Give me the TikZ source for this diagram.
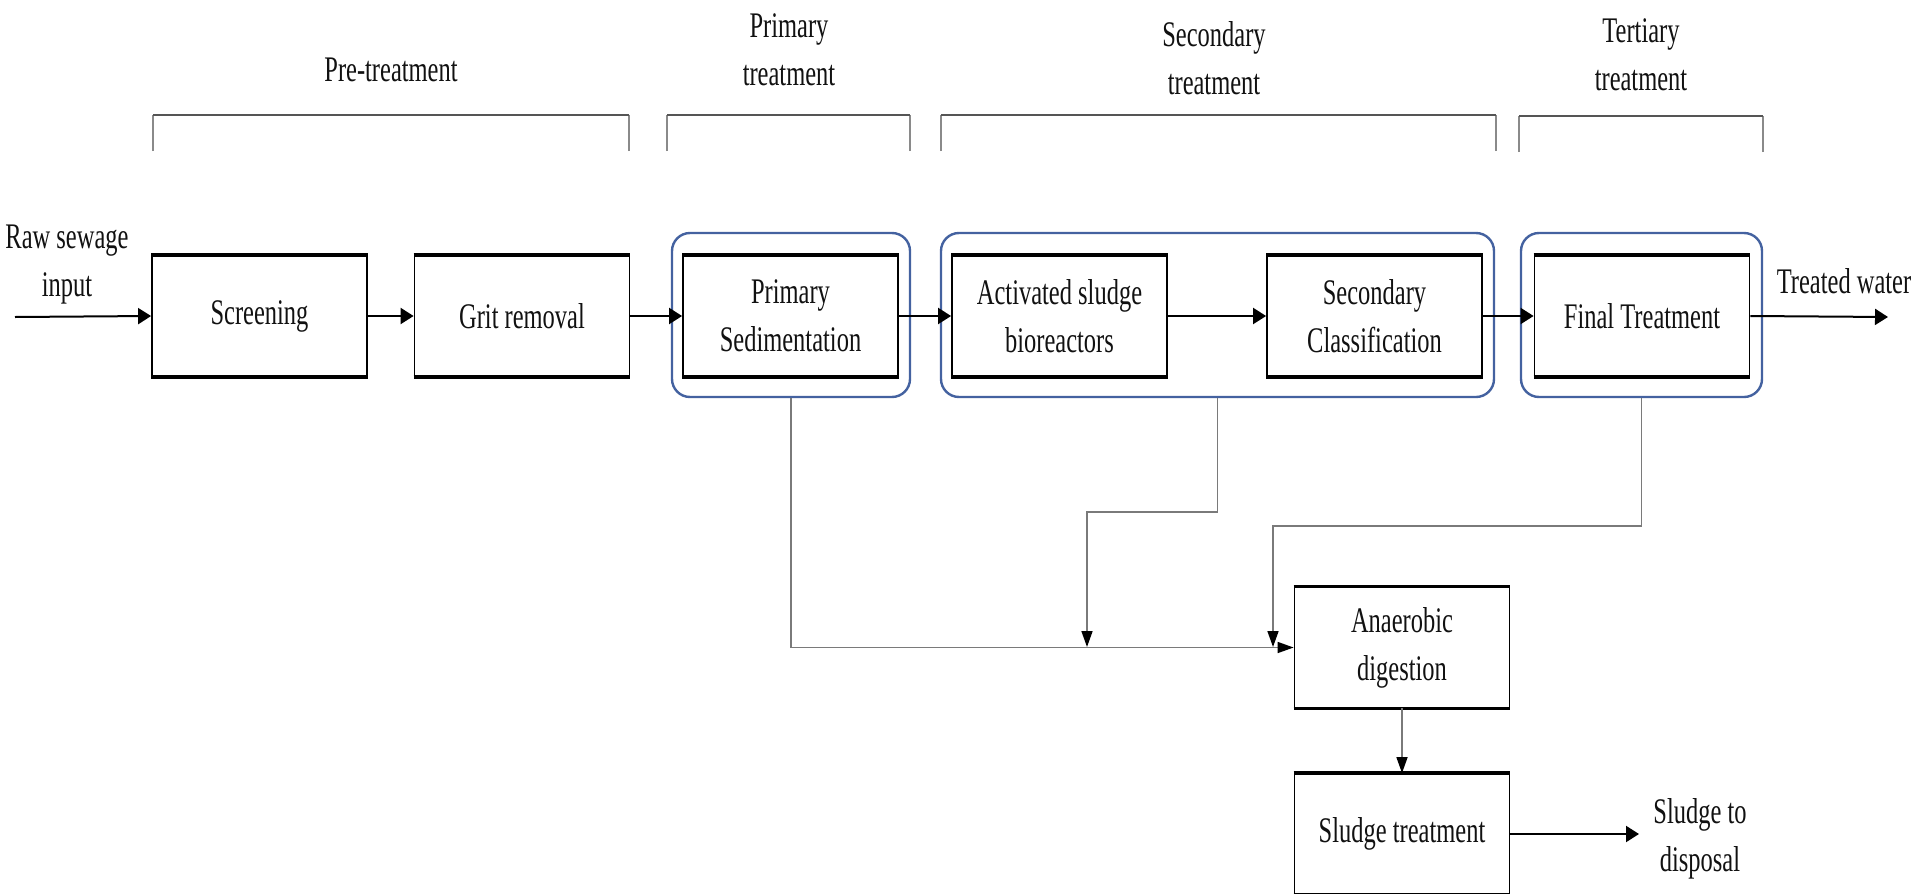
\documentclass[tikz,border=0pt]{standalone}
\usepackage{fontspec}
\setmainfont{Liberation Serif}[FakeStretch=0.68]
\usetikzlibrary{arrows.meta}
\definecolor{txt}{HTML}{111111}
\definecolor{blu}{HTML}{4462A0}
\definecolor{brk}{HTML}{555555}
\definecolor{brkleg}{HTML}{8A8A8A}
\definecolor{conn}{HTML}{7A7A7A}
\begin{document}
\begin{tikzpicture}[x=0.5pt,y=-0.5pt,
  every node/.style={text=txt, font=\fontsize{18pt}{24pt}\selectfont, inner sep=0pt},
  procbox/.style={draw=black, line width=0.9pt, minimum width=107.5pt, minimum height=60pt, align=center},
  lbl/.style={align=center},
  groupbox/.style={draw=blu, line width=1.2pt, rounded corners=9pt, minimum height=82pt},
  flow/.style={draw=black, line width=1pt, -{Triangle[length=6.5pt,width=8pt]}},
  sl/.style={draw=conn, line width=0.8pt, -{Triangle[length=8pt,width=5.5pt,color=black]}},
  brtop/.style={draw=brk, line width=0.9pt},
  brleg/.style={draw=brkleg, line width=0.7pt}
]
\useasboundingbox (0,0) rectangle (1917,894);

% group boxes
\node[groupbox, minimum width=119pt] (gp) at (791,315) {};
\node[groupbox, minimum width=276.5pt] (gs) at (1217.5,315) {};
\node[groupbox, minimum width=120.5pt] (gt) at (1641.5,315) {};

% process boxes
\node[procbox] (scr) at (259.5,316) {Screening};
\node[procbox] (grit) at (522,316) {Grit removal};
\node[procbox] (psed) at (790.5,316) {Primary\\Sedimentation};
\node[procbox] (act) at (1059.5,316) {Activated sludge\\bioreactors};
\node[procbox] (sec) at (1374.5,316) {Secondary\\Classification};
\node[procbox] (fin) at (1642,316) {Final Treatment};
\node[procbox] (ad) at (1402,647.5) {Anaerobic\\digestion};
\node[procbox] (st) at (1402,834) {Sludge treatment};

% thicker top and bottom edges
\foreach \n in {scr,grit,psed,act,sec,fin,ad,st}{
  \draw[line width=1.8pt] (\n.north west) -- (\n.north east);
  \draw[line width=1.8pt] (\n.south west) -- (\n.south east);
}

% stage labels
\node[lbl] (lpre) at (391,70) {Pre-treatment};
\node[lbl] (lpri) at (789,50) {Primary\\treatment};
\node[lbl] (lsec) at (1214,58) {Secondary\\treatment};
\node[lbl] (lter) at (1641,55) {Tertiary\\treatment};

% brackets
\draw[brleg] (153,151) -- (153,115);
\draw[brleg] (629,151) -- (629,115);
\draw[brtop] (153,115) -- (629,115);
\draw[brleg] (667,151) -- (667,115);
\draw[brleg] (910,151) -- (910,115);
\draw[brtop] (667,115) -- (910,115);
\draw[brleg] (941,151) -- (941,115);
\draw[brleg] (1496,151) -- (1496,115);
\draw[brtop] (941,115) -- (1496,115);
\draw[brleg] (1519,152) -- (1519,116);
\draw[brleg] (1763,152) -- (1763,116);
\draw[brtop] (1519,116) -- (1763,116);

% input / output texts
\node[lbl] (raw) at (67,265) {Raw sewage\\input};
\node[lbl] (tw) at (1844,281) {Treated water};
\node[lbl] (disp) at (1700,839) {Sludge to\\disposal};
\coordinate (in) at (15,317);
\coordinate (out) at (1888,317);
\coordinate (dispin) at (1639,834);

% main flow
\draw[flow] (in) -- (scr.west);
\draw[flow] (scr.east) -- (grit.west);
\draw[flow] (grit.east) -- (psed.west);
\draw[flow] (psed.east) -- (act.west);
\draw[flow] (act.east) -- (sec.west);
\draw[flow] (sec.east) -- (fin.west);
\draw[flow] (fin.east) -- (out);
\draw[flow] (st.east) -- (dispin);

% sludge lines
\coordinate (s1) at (1087,647);
\coordinate (t1) at (1273,647);
\draw[sl] (gp.south) |- (ad.west);
\draw[sl] (gs.south) -- (gs.south |- 0,512) -- (s1 |- 0,512) -- (s1);
\draw[sl] (gt.south) -- (gt.south |- 0,526) -- (t1 |- 0,526) -- (t1);
\draw[sl] (ad.south) -- (st.north);
\end{tikzpicture}
\end{document}
